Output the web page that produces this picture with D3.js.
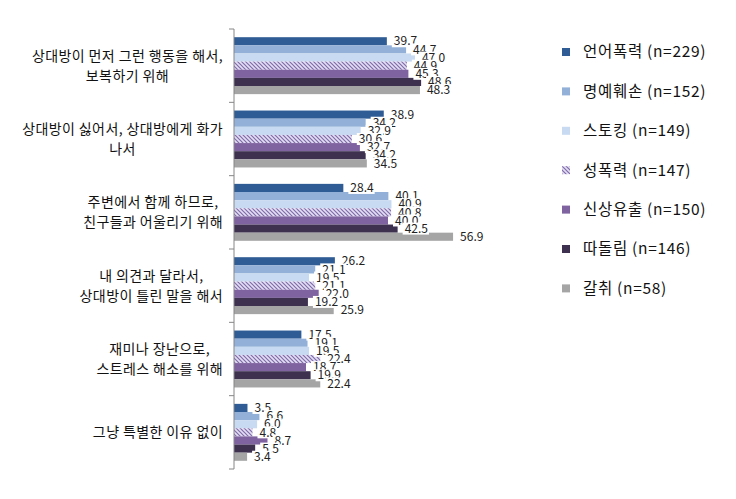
<!DOCTYPE html>
<html><head><meta charset="utf-8">
<script src="https://cdn.jsdelivr.net/npm/d3@7"></script>
<style>body{margin:0;background:#fff}svg{display:block}</style>
</head><body>
<svg id="c" width="736" height="499"></svg>
<script>
const categories = [
  ["상대방이 먼저 그런 행동을 해서,", "보복하기 위해"],
  ["상대방이 싫어서, 상대방에게 화가", "나서"],
  ["주변에서 함께 하므로,", "친구들과 어울리기 위해"],
  ["내 의견과 달라서,", "상대방이 틀린 말을 해서"],
  ["재미나 장난으로,", "스트레스 해소를 위해"],
  ["그냥 특별한 이유 없이"]
];
const seriesNames = ["언어폭력 (n=229)", "명예훼손 (n=152)", "스토킹 (n=149)", "성폭력 (n=147)", "신상유출 (n=150)", "따돌림 (n=146)", "갈취 (n=58)"];
const s1 = [39.7, 38.9, 28.4, 26.2, 17.5, 3.5];
const s2 = [44.7, 34.2, 40.1, 21.1, 19.1, 6.6];
const s3 = [47.0, 32.9, 40.9, 19.5, 19.5, 6.0];
const s4 = [44.9, 30.6, 40.8, 21.1, 22.4, 4.8];
const s5 = [45.3, 32.7, 40.0, 22.0, 18.7, 8.7];
const s6 = [48.6, 34.2, 42.5, 19.2, 19.9, 5.5];
const s7 = [48.3, 34.5, 56.9, 25.9, 22.4, 3.4];
const seriesValues = [s1, s2, s3, s4, s5, s6, s7];

const colors = ["#2F5C94", "#93B1D8", "#C8DAF1", "url(#hatch)", "#7F63A1", "#3E3150", "#A5A5A5"];

const svg = d3.select("#c");
const font = "'Noto Sans CJK KR', 'Noto Sans', sans-serif";

const defs = svg.append("defs");
const pat = defs.append("pattern").attr("id", "hatch").attr("patternUnits", "userSpaceOnUse")
  .attr("width", 4).attr("height", 4);
pat.append("rect").attr("width", 4).attr("height", 4).attr("fill", "#E4DEF0");
pat.append("path").attr("d", "M-1,-1 L5,5 M-1,3 L1,5 M3,-1 L5,1").attr("stroke", "#7E6BAE").attr("stroke-width", 1.2);

const X0 = 234, plotTop = 29, plotBottom = 469;
const x = d3.scaleLinear().domain([0, 60]).range([X0, X0 + 231]);
const y0 = d3.scaleBand().domain(d3.range(categories.length)).range([plotTop, plotBottom]);
const bw = y0.bandwidth();
const gap = 8.2;
const y1 = d3.scaleBand().domain(d3.range(seriesNames.length)).range([gap, bw - gap]);

// bars
const g = svg.append("g");
categories.forEach((c, ci) => {
  seriesValues.forEach((vals, si) => {
    g.append("rect")
      .attr("x", x(0))
      .attr("y", y0(ci) + y1(si))
      .attr("width", x(vals[ci]) - x(0))
      .attr("height", y1.bandwidth())
      .attr("fill", colors[si]);
  });
});

// axis
const ag = svg.append("g").attr("transform", `translate(${X0},0)`);
const tickYs = d3.range(categories.length + 1).map(i => plotTop + i * bw);
ag.selectAll("line.t").data(tickYs).enter().append("line")
  .attr("x1", -5).attr("x2", 0).attr("y1", d => d).attr("y2", d => d)
  .attr("stroke", "#868686").attr("stroke-width", 1);
ag.append("line").attr("x1", 0).attr("x2", 0).attr("y1", plotTop).attr("y2", plotBottom)
  .attr("stroke", "#868686").attr("stroke-width", 1);

// data labels
const lg = svg.append("g");
categories.forEach((c, ci) => {
  seriesValues.forEach((vals, si) => {
    const v = vals[ci];
    const cy = y0(ci) + y1(si) + y1.bandwidth() / 2;
    const tx = x(v) + 7;
    const t = lg.append("text").attr("x", tx).attr("y", cy).attr("dy", "0.35em")
      .attr("font-family", font).attr("font-size", 12).attr("fill", "#222")
      .text(v.toFixed(1));
    const w = t.node().getComputedTextLength();
    lg.insert("rect", () => t.node())
      .attr("x", tx - 2).attr("y", cy - 6).attr("width", w + 3).attr("height", 12).attr("fill", "#fff");
  });
});

// category labels
const cg = svg.append("g");
const rightEdge = 223;
categories.forEach((lines, ci) => {
  const cy = y0(ci) + bw / 2;
  const n = lines.length;
  const texts = lines.map((ln, li) => cg.append("text")
    .attr("y", cy + (li - (n - 1) / 2) * 20).attr("dy", "0.35em")
    .attr("text-anchor", "middle").attr("font-family", font).attr("font-size", 14)
    .attr("letter-spacing", 0.4)
    .attr("fill", "#111").text(ln));
  const maxW = d3.max(texts, t => t.node().getComputedTextLength());
  texts.forEach(t => t.attr("x", rightEdge - maxW / 2));
});

// legend
const leg = svg.append("g");
seriesNames.forEach((name, si) => {
  const ly = 52 + si * 39.4;
  leg.append("rect").attr("x", 562).attr("y", ly - 4).attr("width", 8).attr("height", 8).attr("fill", colors[si]);
  leg.append("text").attr("x", 583).attr("y", ly).attr("dy", "0.35em")
    .attr("font-family", font).attr("font-size", 15.5).attr("letter-spacing", 0.7)
    .attr("fill", "#111").text(name);
});
</script>
</body></html>
